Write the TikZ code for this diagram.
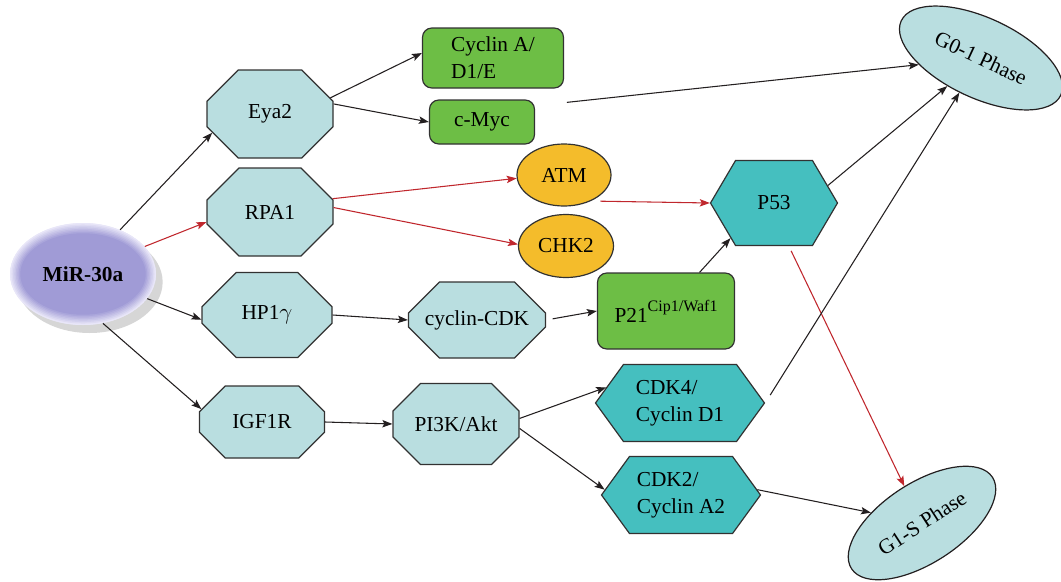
\documentclass[tikz,border=0pt]{standalone}
\usepackage{fontspec}
\setmainfont{Liberation Serif}
\usetikzlibrary{arrows.meta,positioning,shapes.geometric,shapes.misc,shapes.symbols,shadows}

\definecolor{BoxBlue}{RGB}{185,222,224}
\definecolor{LeafGreen}{RGB}{109,190,69}
\definecolor{KinaseOrange}{RGB}{244,188,43}
\definecolor{HexTeal}{RGB}{69,191,191}
\definecolor{ArrowRed}{RGB}{192,39,45}
\definecolor{EdgeGray}{RGB}{50,50,50}
\definecolor{ArrowBlack}{RGB}{35,31,32}
\definecolor{MirPurple}{RGB}{160,155,214}
\definecolor{MirRim}{RGB}{232,230,248}

\tikzset{
  label font/.style={font=\fontsize{16}{20}\selectfont},
  octo/.style={chamfered rectangle, draw=EdgeGray, fill=BoxBlue, line width=0.9pt,
    inner sep=0pt, label font},
  leaf/.style={rectangle, rounded corners=7pt, draw=EdgeGray, fill=LeafGreen,
    line width=0.9pt, inner sep=0pt, align=left, label font},
  kinase/.style={ellipse, draw=EdgeGray, fill=KinaseOrange, line width=0.9pt,
    inner sep=0pt, label font},
  hexa/.style={signal, signal to=east and west, draw=EdgeGray, fill=HexTeal,
    line width=0.9pt, inner sep=0pt, align=left, label font},
  phase/.style={ellipse, draw=ArrowBlack, fill=BoxBlue, line width=0.9pt,
    inner sep=0pt, label font},
  arr/.style={-{Stealth[length=7.5pt,width=5.5pt,inset=1.5pt]}, line width=0.8pt, ArrowBlack},
  redarr/.style={arr, ArrowRed},
}

\begin{document}
\begin{tikzpicture}[x=0.75pt,y=-0.75pt]
  \useasboundingbox (0,0) rectangle (1061,582);

  % microRNA, soft rim built from nested ellipses
  \node[ellipse, fill=MirRim, minimum width=109.5pt, minimum height=76.5pt,
    drop shadow={shadow xshift=5pt, shadow yshift=-6pt, opacity=0.16, fill=black},
    path picture={
      \foreach \k in {0,...,7}{
        \pgfmathsetmacro\p{min(100,\k*14.3)}
        \pgfmathsetmacro\rx{54.75-1.1*\k}
        \pgfmathsetmacro\ry{38.25-1.1*\k}
        \fill[MirPurple!\p!MirRim] (path picture bounding box.center) ellipse [x radius=\rx pt, y radius=\ry pt];
      }},
    font=\fontsize{16}{19}\selectfont\bfseries] (mir) at (83,274) {MiR-30a};

  % first targets
  \node[octo, minimum width=94.5pt, minimum height=66pt,
    chamfered rectangle xsep=18.75pt, chamfered rectangle ysep=18.75pt] (eya) at (270,114) {Eya2};
  \node[octo, minimum width=94.5pt, minimum height=66pt,
    chamfered rectangle xsep=18.75pt, chamfered rectangle ysep=18.75pt] (rpa) at (270,212) {RPA1};
  \node[octo, minimum width=97.5pt, minimum height=63.75pt,
    chamfered rectangle xsep=18pt, chamfered rectangle ysep=18.75pt] (hp1) at (267,315) {HP1$\gamma$};
  \node[octo, minimum width=93.75pt, minimum height=54pt,
    chamfered rectangle xsep=18.75pt, chamfered rectangle ysep=14pt] (igf) at (262,422) {IGF1R};

  % second layer
  \node[octo, minimum width=102.75pt, minimum height=57pt,
    chamfered rectangle xsep=18pt, chamfered rectangle ysep=16pt] (ccdk) at (477,320) {cyclin-CDK};
  \node[octo, minimum width=94.5pt, minimum height=60.75pt,
    chamfered rectangle xsep=17pt, chamfered rectangle ysep=15pt] (pik) at (456,424) {PI3K/Akt};
  \node[leaf, minimum width=105.75pt, minimum height=45pt] (cyca) at (493,58) {Cyclin A/\\D1/E};
  \node[leaf, minimum width=78.75pt, minimum height=33pt] (cmyc) at (482,122) {c-Myc};
  \node[kinase, minimum width=70.5pt, minimum height=46.5pt] (atm) at (564,175) {ATM};
  \node[kinase, minimum width=71.25pt, minimum height=47.25pt] (chk) at (566,246) {CHK2};

  % third layer
  \node[hexa, minimum width=95.25pt, minimum height=63.75pt, signal pointer angle=119] (p53) at (774,203) {P53};
  \node[leaf, minimum width=102.75pt, minimum height=57pt] (p21) at (666,311)
    {P21\raisebox{1.1ex}{\fontsize{12}{12}\selectfont Cip1/Waf1}};
  \node[hexa, minimum width=126.75pt, minimum height=57.75pt, signal pointer angle=108] (cdkf) at (680,403) {CDK4/\\Cyclin D1};
  \node[hexa, minimum width=119.25pt, minimum height=57.75pt, signal pointer angle=108] (cdkt) at (681,495) {CDK2/\\Cyclin A2};

  % cell cycle phases
  \node[phase, minimum width=132pt, minimum height=60pt, rotate=-25] (gzero) at (981,58) {G0-1 Phase};
  \node[phase, minimum width=126pt, minimum height=60pt, rotate=33] (gone) at (922,523) {G1-S Phase};

  % connectors
  \draw[arr] (mir.50) -- (eya.198);
  \draw[redarr] (mir.24) -- (rpa.189);
  \draw[arr] (mir.-21) -- (hp1.184);
  \draw[arr] (mir.-68) -- (igf.168);
  \draw[arr] (eya.15) -- (cyca.176);
  \draw[arr] (eya.9) -- (cmyc.180);
  \draw[arr, shorten <=24pt] (cmyc.17) -- (gzero);
  \draw[redarr] (rpa.12) -- (atm.184);
  \draw[redarr] (rpa.4) -- (chk.178);
  \draw[redarr, shorten <=7pt] (atm.-44) -- (p53.west);
  \draw[arr] (hp1.east) -- (ccdk.west);
  \draw[arr, shorten <=5pt] (ccdk.east) -- (p21.west);
  \draw[arr] (p21.49) -- (p53.219);
  \draw[arr] (p53.18) -- (gzero);
  \draw[redarr, shorten <=4pt] (p53.-71) -- (gone);
  \draw[arr] (igf.east) -- (pik.west);
  \draw[arr] (pik.5) -- (cdkf.168);
  \draw[arr] (pik.-4) -- (cdkt.176);
  \draw[arr, shorten <=7pt] (cdkf.east) -- (gzero);
  \draw[arr] (cdkt.4) -- (gone);
\end{tikzpicture}
\end{document}
